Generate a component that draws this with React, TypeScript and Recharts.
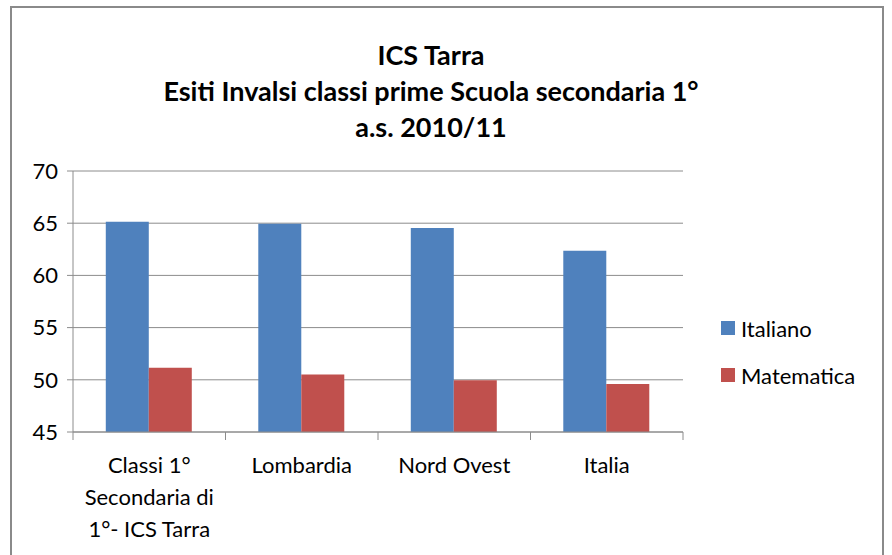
import React from 'react';
import { BarChart, Bar, XAxis, YAxis, CartesianGrid } from 'recharts';

const categories = ['Classi 1° Secondaria di 1°- ICS Tarra', 'Lombardia', 'Nord Ovest', 'Italia'];
const categoryLines = [['Classi 1°', 'Secondaria di', '1°- ICS Tarra'], ['Lombardia'], ['Nord Ovest'], ['Italia']];
const italiano = [65.15, 64.95, 64.55, 62.35];
const matematica = [51.15, 50.5, 49.95, 49.6];
const yTicks = [45, 50, 55, 60, 65, 70];
const seriesKeys = ['italiano', 'matematica'];
const seriesNames = ['Italiano', 'Matematica'];
const seriesColors = ['#4F81BD', '#C0504D'];
const titleLines = ['ICS Tarra', 'Esiti Invalsi classi prime Scuola secondaria 1°', 'a.s. 2010/11'];

const data = categories.map((c, i) => ({ name: c, italiano: italiano[i], matematica: matematica[i] }));

const W = 892;
const H = 555;
const M = { top: 171, right: 209, left: 0, bottom: 0 };
const Y_AXIS_W = 73;
const X_AXIS_H = 123;
const PLOT_W = W - M.left - M.right - Y_AXIS_W;
const HALF_BAND = PLOT_W / categories.length / 2;
const FONT = 'Lato, "Noto Sans", sans-serif';
const GRID = '#8c8c8c';

const XTick = (props: any) => {
  const { x, y, index } = props;
  const lines = categoryLines[index] || [];
  const isLast = index === categories.length - 1;
  return (
    <g>
      <line x1={x - HALF_BAND} x2={x - HALF_BAND} y1={y} y2={y + 8} stroke={GRID} />
      {isLast && <line x1={x + HALF_BAND} x2={x + HALF_BAND} y1={y} y2={y + 8} stroke={GRID} />}
      <text x={x} y={y} textAnchor="middle" fontSize={22} fontFamily={FONT} fill="#000">
        {lines.map((l, i) => (
          <tspan key={i} x={x} y={y + 41 + i * 32}>{l}</tspan>
        ))}
      </text>
    </g>
  );
};

export default function App() {
  return (
    <div style={{ position: 'absolute', left: 0, top: 0, width: W, height: H, overflow: 'hidden', background: '#fff', fontFamily: FONT }}>
      <BarChart width={W} height={H} data={data} margin={M} barCategoryGap="21.5%" barGap={0}>
        <CartesianGrid vertical={false} stroke={GRID} strokeWidth={1} />
        <XAxis
          dataKey="name"
          interval={0}
          height={X_AXIS_H}
          tickLine={false}
          tickSize={0}
          tickMargin={0}
          axisLine={{ stroke: GRID }}
          tick={<XTick />}
        />
        <YAxis
          domain={[45, 70]}
          ticks={yTicks}
          width={Y_AXIS_W}
          tickSize={6}
          tickMargin={9}
          axisLine={{ stroke: GRID }}
          tickLine={{ stroke: GRID }}
          tick={{ fill: '#000', fontSize: 22, fontFamily: FONT }}
          allowDataOverflow
        />
        {seriesKeys.map((k, i) => (
          <Bar key={k} dataKey={k} name={seriesNames[i]} fill={seriesColors[i]} isAnimationActive={false} />
        ))}
      </BarChart>
      <svg width={W} height={150} style={{ position: 'absolute', left: 0, top: 0, pointerEvents: 'none' }}>
        {titleLines.map((t, i) => (
          <text key={i} x={431} y={65 + i * 36} textAnchor="middle" fontSize={27} fontWeight={700} fontFamily={FONT} fill="#000">{t}</text>
        ))}
      </svg>
      {seriesNames.map((n, i) => (
        <div key={n} style={{ position: 'absolute', left: 721, top: 314 + i * 47, height: 28, display: 'flex', alignItems: 'center' }}>
          <div style={{ width: 14, height: 14, background: seriesColors[i], marginRight: 6 }} />
          <span style={{ fontSize: 22, color: '#000' }}>{n}</span>
        </div>
      ))}
      <div style={{ position: 'absolute', left: 10, top: 6, width: 874, height: 700, border: '2px solid #8a8a8a', boxSizing: 'border-box', pointerEvents: 'none' }} />
    </div>
  );
}
